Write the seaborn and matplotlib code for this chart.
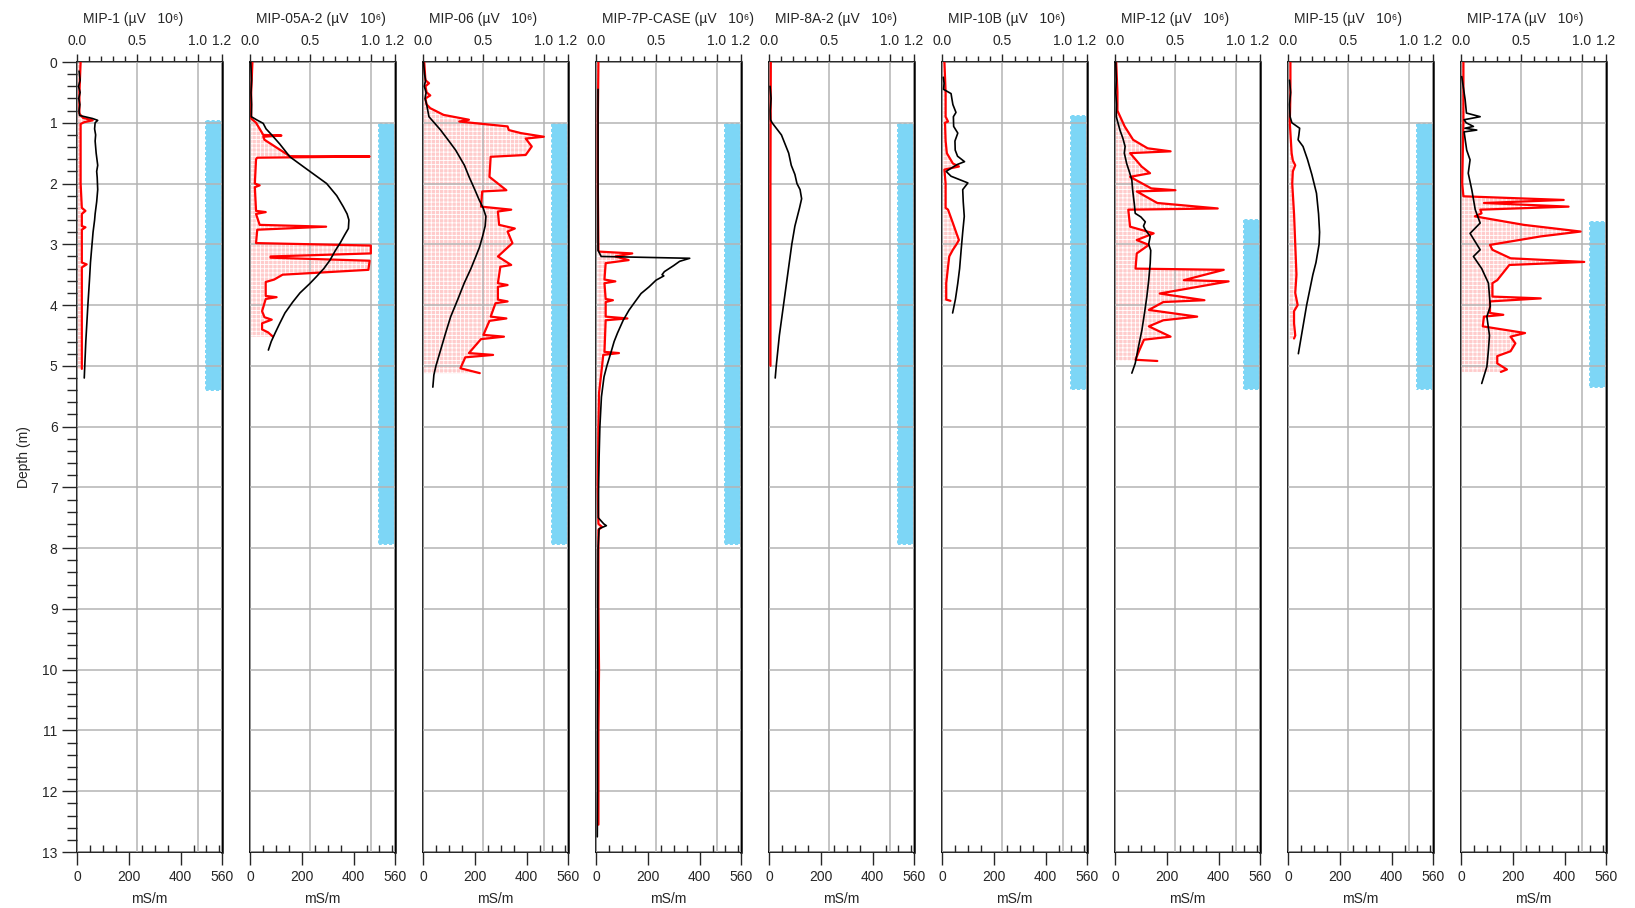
import matplotlib
matplotlib.use('Agg')
import matplotlib.pyplot as plt
from matplotlib.ticker import MultipleLocator
import seaborn as sns
import pandas as pd

# well names and the blue screened interval (top, bottom depth in m)
wells = ['MIP-1', 'MIP-05A-2', 'MIP-06', 'MIP-7P-CASE', 'MIP-8A-2',
         'MIP-10B', 'MIP-12', 'MIP-15', 'MIP-17A']
screen_top = [0.95, 1.0, 1.0, 1.0, 1.0, 0.88, 2.58, 1.0, 2.62]
screen_bot = [5.42, 7.95, 7.95, 7.95, 7.95, 5.40, 5.40, 5.40, 5.37]

# MIP signal (uV x 10^6), (depth, value)
mip1_red = [(0, 0.03), (0.5, 0.02), (0.85, 0.02), (0.92, 0.05), (0.96, 0.13), (0.99, 0.06),
            (1.02, 0.03), (1.5, 0.03), (2.0, 0.03), (2.4, 0.04), (2.45, 0.07), (2.5, 0.04),
            (2.7, 0.04), (2.72, 0.07), (2.76, 0.04), (3.3, 0.04), (3.33, 0.08), (3.38, 0.04),
            (4.0, 0.04), (4.5, 0.04), (5.05, 0.04)]
mip05_red = [(0, 0.02), (0.5, 0.01), (0.93, 0.01), (1.0, 0.05), (1.2, 0.11), (1.21, 0.26),
             (1.23, 0.11), (1.28, 0.12), (1.55, 0.33), (1.555, 0.99), (1.575, 0.06), (1.6, 0.05),
             (2.0, 0.04), (2.03, 0.08), (2.06, 0.04), (2.45, 0.05), (2.47, 0.13), (2.5, 0.05),
             (2.68, 0.08), (2.71, 0.63), (2.76, 0.06), (2.98, 0.05), (3.02, 1.0), (3.15, 1.0),
             (3.2, 0.17), (3.22, 0.17), (3.27, 0.99), (3.42, 0.98), (3.5, 0.27), (3.58, 0.2),
             (3.62, 0.13), (3.85, 0.13), (3.87, 0.22), (3.9, 0.13), (4.1, 0.1), (4.2, 0.12),
             (4.24, 0.18), (4.3, 0.1), (4.4, 0.1), (4.45, 0.15), (4.52, 0.19)]
mip06_red = [(0, 0.01), (0.3, 0.02), (0.35, 0.05), (0.4, 0.02), (0.5, 0.03), (0.55, 0.06),
             (0.6, 0.02), (0.7, 0.03), (0.76, 0.06), (0.87, 0.17), (0.95, 0.38), (0.98, 0.3),
             (1.06, 0.7), (1.12, 0.71), (1.17, 0.81), (1.23, 1.0), (1.26, 0.85), (1.39, 0.9),
             (1.53, 0.85), (1.56, 0.56), (1.89, 0.55), (2.11, 0.69), (2.13, 0.49), (2.38, 0.48),
             (2.43, 0.73), (2.46, 0.62), (2.68, 0.63), (2.74, 0.76), (2.79, 0.7), (2.98, 0.74),
             (3.2, 0.62), (3.34, 0.73), (3.37, 0.64), (3.64, 0.62), (3.67, 0.7), (3.7, 0.62),
             (3.91, 0.62), (3.94, 0.7), (3.97, 0.6), (4.19, 0.56), (4.22, 0.69), (4.26, 0.55),
             (4.49, 0.5), (4.52, 0.67), (4.56, 0.48), (4.79, 0.38), (4.82, 0.58), (4.86, 0.35),
             (5.04, 0.31), (5.12, 0.47)]
mip7_red = [(0, 0.02), (1.0, 0.015), (2.0, 0.015), (3.1, 0.02), (3.12, 0.025), (3.15, 0.30),
            (3.2, 0.16), (3.26, 0.27), (3.31, 0.08), (3.58, 0.07), (3.61, 0.16), (3.64, 0.07),
            (3.9, 0.08), (3.92, 0.14), (3.95, 0.08), (4.19, 0.08), (4.22, 0.26), (4.25, 0.08),
            (4.77, 0.07), (4.79, 0.19), (4.82, 0.06), (5.01, 0.05), (5.45, 0.025), (6.0, 0.02),
            (7.0, 0.015), (7.6, 0.02), (7.65, 0.05), (7.7, 0.02), (9.0, 0.02), (10.0, 0.025),
            (11.0, 0.02), (12.0, 0.02), (12.55, 0.02)]
mip8_red = [(0, 0.015), (2.0, 0.012), (4.0, 0.012), (5.0, 0.012)]
mip10_red = [(0, 0.02), (0.5, 0.03), (0.9, 0.03), (0.98, 0.05), (1.0, 0.025), (1.3, 0.03),
             (1.5, 0.04), (1.67, 0.09), (1.72, 0.14), (1.77, 0.02), (2.0, 0.03), (2.4, 0.03),
             (2.43, 0.05), (2.65, 0.09), (2.82, 0.12), (2.93, 0.14), (3.0, 0.12), (3.09, 0.09),
             (3.2, 0.06), (3.37, 0.05), (3.64, 0.035), (3.91, 0.035), (3.93, 0.07)]
mip12_red = [(0, 0.01), (0.5, 0.02), (0.8, 0.02), (1.06, 0.08), (1.28, 0.15), (1.42, 0.27),
             (1.47, 0.46), (1.5, 0.125), (1.72, 0.22), (1.83, 0.29), (1.89, 0.125), (2.08, 0.3),
             (2.11, 0.5), (2.13, 0.18), (2.32, 0.35), (2.41, 0.85), (2.43, 0.11), (2.71, 0.125),
             (2.82, 0.32), (2.93, 0.18), (3.01, 0.28), (3.15, 0.18), (3.4, 0.17), (3.42, 0.9),
             (3.59, 0.57), (3.61, 0.94), (3.81, 0.37), (3.92, 0.74), (3.95, 0.4), (4.08, 0.28),
             (4.19, 0.68), (4.25, 0.4), (4.35, 0.28), (4.52, 0.46), (4.57, 0.24), (4.75, 0.2),
             (4.9, 0.17), (4.92, 0.35)]
mip15_red = [(0, 0.02), (0.5, 0.02), (1.0, 0.015), (1.5, 0.03), (1.62, 0.04), (1.7, 0.06),
             (1.8, 0.04), (2.0, 0.035), (2.5, 0.05), (3.0, 0.06), (3.5, 0.07), (3.8, 0.06),
             (4.0, 0.08), (4.1, 0.05), (4.3, 0.05), (4.5, 0.06), (4.55, 0.05)]
mip17_red = [(0, 0.02), (0.5, 0.02), (1.0, 0.02), (1.5, 0.015), (2.0, 0.01), (2.21, 0.02),
             (2.27, 0.85), (2.32, 0.19), (2.38, 0.89), (2.43, 0.16), (2.49, 0.17), (2.54, 0.115),
             (2.68, 0.52), (2.79, 0.99), (2.87, 0.66), (3.01, 0.24), (3.09, 0.26), (3.23, 0.41),
             (3.29, 1.02), (3.34, 0.4), (3.59, 0.3), (3.64, 0.26), (3.86, 0.26), (3.89, 0.66),
             (3.94, 0.24), (4.13, 0.24), (4.16, 0.35), (4.19, 0.19), (4.35, 0.18), (4.46, 0.53),
             (4.52, 0.41), (4.63, 0.45), (4.76, 0.41), (4.84, 0.3), (4.96, 0.3), (5.06, 0.38),
             (5.1, 0.33)]

# electrical conductivity (mS/m), (depth, value)
mip1_ec = [(0.15, 8), (0.3, 12), (0.4, 6), (0.5, 12), (0.6, 7), (0.7, 11), (0.8, 8), (0.88, 10),
           (0.93, 60), (0.96, 80), (1.0, 70), (1.1, 68), (1.2, 72), (1.3, 70), (1.5, 74), (1.7, 80),
           (1.8, 76), (1.9, 78), (2.1, 80), (2.3, 76), (2.5, 70), (2.6, 68), (2.8, 62), (3.0, 58),
           (3.3, 52), (3.6, 48), (4.0, 42), (4.3, 38), (4.6, 34), (5.0, 30), (5.2, 28)]
mip05_ec = [(0.0, 3), (0.3, 6), (0.5, 4), (0.7, 6), (0.9, 5), (0.95, 25), (1.01, 51), (1.1, 62),
            (1.2, 84), (1.35, 115), (1.56, 154), (1.75, 215), (2.0, 296), (2.2, 335), (2.38, 360),
            (2.5, 375), (2.6, 382), (2.74, 380), (2.85, 365), (2.98, 348), (3.1, 330), (3.26, 309),
            (3.4, 285), (3.53, 257), (3.65, 230), (3.8, 193), (3.95, 165), (4.13, 135), (4.3, 115),
            (4.46, 97), (4.6, 82), (4.74, 71)]
mip06_ec = [(0, 2), (0.2, 6), (0.3, 10), (0.4, 5), (0.5, 12), (0.6, 8), (0.7, 14), (0.9, 23),
            (1.12, 68), (1.3, 100), (1.45, 126), (1.7, 160), (1.89, 178), (2.1, 200), (2.27, 217),
            (2.4, 232), (2.54, 243), (2.7, 240), (2.87, 230), (3.05, 218), (3.2, 204), (3.4, 185),
            (3.64, 159), (3.9, 135), (4.19, 107), (4.45, 88), (4.74, 68), (5.0, 50), (5.15, 42),
            (5.35, 38)]
mip7_ec = [(0.45, 8), (1.0, 8), (2.0, 8), (3.1, 8), (3.2, 20), (3.23, 362), (3.28, 323),
           (3.35, 300), (3.45, 264), (3.5, 255), (3.52, 262), (3.59, 232), (3.7, 205), (3.81, 174),
           (3.95, 150), (4.08, 128), (4.25, 105), (4.46, 83), (4.6, 70), (4.79, 57), (5.0, 42),
           (5.18, 31), (5.51, 21), (6.0, 15), (6.5, 12), (7.0, 10), (7.5, 9), (7.6, 30), (7.63, 40),
           (7.68, 12), (8.0, 8), (9.0, 7), (10.0, 7), (11.0, 6), (12.0, 6), (12.75, 5)]
mip8_ec = [(0.4, 4), (0.6, 8), (0.8, 5), (0.95, 6), (1.0, 12), (1.1, 30), (1.2, 48), (1.35, 62),
           (1.5, 76), (1.7, 86), (1.85, 100), (2.0, 108), (2.1, 120), (2.25, 126), (2.4, 118),
           (2.7, 100), (3.0, 88), (3.5, 72), (4.0, 56), (4.5, 40), (5.0, 28), (5.2, 24)]
mip10_ec = [(0.25, 5), (0.35, 8), (0.45, 6), (0.52, 35), (0.6, 38), (0.7, 42), (0.83, 54),
            (0.9, 44), (1.06, 45), (1.17, 61), (1.3, 50), (1.45, 51), (1.55, 60), (1.64, 87),
            (1.69, 57), (1.8, 16), (1.88, 35), (1.99, 100), (2.1, 80), (2.3, 82), (2.54, 86),
            (2.8, 80), (3.09, 74), (3.4, 68), (3.64, 61), (3.9, 52), (4.13, 41)]
mip12_ec = [(0, 3), (0.3, 5), (0.5, 3), (0.7, 6), (0.9, 5), (1.12, 19), (1.25, 30), (1.39, 39),
            (1.5, 36), (1.67, 45), (1.8, 55), (1.94, 65), (2.1, 68), (2.21, 71), (2.35, 75),
            (2.49, 78), (2.55, 100), (2.63, 117), (2.7, 110), (2.76, 117), (2.87, 136), (3.0, 130),
            (3.1, 138), (3.31, 136), (3.6, 130), (3.86, 123), (4.1, 115), (4.41, 104), (4.7, 90),
            (4.96, 78), (5.12, 65)]
mip15_ec = [(0.3, 6), (0.5, 10), (0.7, 6), (0.9, 8), (1.0, 15), (1.09, 45), (1.2, 42), (1.28, 39),
            (1.39, 58), (1.6, 75), (1.85, 92), (2.16, 110), (2.5, 118), (2.8, 122), (3.0, 120),
            (3.3, 108), (3.5, 96), (4.0, 72), (4.5, 52), (4.8, 40)]
mip17_ec = [(0.24, 3), (0.62, 16), (0.84, 21), (0.9, 74), (0.95, 12), (1.0, 20), (1.06, 48),
            (1.09, 15), (1.12, 61), (1.15, 12), (1.45, 22), (1.61, 35), (1.83, 28), (2.11, 42),
            (2.43, 55), (2.65, 74), (2.82, 35), (3.09, 74), (3.2, 48), (3.4, 80), (3.64, 106),
            (4.02, 113), (4.19, 100), (4.5, 110), (4.74, 106), (5.01, 100), (5.29, 80)]

red_data = [mip1_red, mip05_red, mip06_red, mip7_red, mip8_red,
            mip10_red, mip12_red, mip15_red, mip17_red]
ec_data = [mip1_ec, mip05_ec, mip06_ec, mip7_ec, mip8_ec,
           mip10_ec, mip12_ec, mip15_ec, mip17_ec]

sns.set_style('white')
plt.rcParams['font.family'] = ['Liberation Sans', 'DejaVu Sans']
plt.rcParams['hatch.linewidth'] = 0.6

W, H = 1635, 908
fig = plt.figure(figsize=(W / 100, H / 100), dpi=100)

for i, name in enumerate(wells):
    left = 77 + 173 * i
    ax = fig.add_axes([left / W, 1 - 852 / H, 145 / W, 790 / H])
    ax_ec = ax.twiny()   # conductivity axis (bottom)
    red = pd.DataFrame(red_data[i], columns=['depth', 'val'])
    ec = pd.DataFrame(ec_data[i], columns=['depth', 'val'])

    # screened interval bar
    ax.fill_betweenx([screen_top[i], screen_bot[i]], 1.06, 1.2, facecolor='#7dd6f6',
                     edgecolor='white', linestyle=(0, (1, 1.5)), linewidth=1.5, zorder=1)
    # MIP signal with hatched fill
    ax.fill_betweenx(red['depth'], 0, red['val'], facecolor='#ffcccc', edgecolor='white',
                     hatch='++++', linewidth=0, zorder=1)
    sns.lineplot(data=red, x='val', y='depth', sort=False, estimator=None,
                 color='red', lw=1.6, ax=ax, zorder=3)
    ax.set_xlim(0, 1.2)
    ax.set_ylim(13, 0)
    ax.set_xlabel('')
    ax.set_ylabel('')
    ax.set_axisbelow(False)
    ax.xaxis.set_ticks_position('top')
    ax.xaxis.set_label_position('top')
    ax.set_xticks([0, 0.5, 1.0, 1.2])
    ax.set_xticklabels(['0.0', '0.5', '1.0', '1.2'])
    ax.xaxis.set_minor_locator(MultipleLocator(0.1))
    ax.tick_params(axis='x', which='major', direction='out', length=6, width=1, pad=4,
                   labelsize=10, top=True, bottom=False, labeltop=True, labelbottom=False)
    ax.tick_params(axis='x', which='minor', direction='out', length=4, width=1, top=True, bottom=False)
    ax.set_yticks(range(14))
    ax.grid(True, which='major', color='#b4b4b4', lw=1.1)
    if i == 0:
        ax.yaxis.set_minor_locator(MultipleLocator(0.2))
        ax.tick_params(axis='y', which='major', direction='out', length=11, width=1, labelsize=10,
                       left=True, pad=3)
        ax.tick_params(axis='y', which='minor', direction='out', length=7, width=1, left=True)
        ax.set_ylabel('Depth (m)', fontsize=10, labelpad=8)
    else:
        ax.tick_params(axis='y', which='both', left=False, labelleft=False)
    for s in ax.spines.values():
        s.set_color('black')
        s.set_linewidth(1.2)
    ax.spines['right'].set_linewidth(1.8)

    sns.lineplot(data=ec, x='val', y='depth', sort=False, estimator=None,
                 color='black', lw=1.2, ax=ax_ec, zorder=4)
    ax_ec.set_xlim(0, 560)
    ax_ec.set_ylim(13, 0)
    ax_ec.set_ylabel('')
    ax_ec.xaxis.set_ticks_position('bottom')
    ax_ec.xaxis.set_label_position('bottom')
    ax_ec.set_xticks([0, 200, 400, 560])
    ax_ec.xaxis.set_minor_locator(MultipleLocator(50))
    ax_ec.tick_params(axis='x', which='major', direction='out', length=9, width=1, pad=4,
                      labelsize=10, bottom=True, top=False, labelbottom=True, labeltop=False)
    ax_ec.tick_params(axis='x', which='minor', direction='in', length=5, width=1,
                      bottom=True, top=False)
    ax_ec.set_xlabel('mS/m', fontsize=10, labelpad=6)
    ax_ec.grid(False)
    ax_ec.tick_params(axis='y', which='both', left=False, right=False,
                      labelleft=False, labelright=False)
    for s in ax_ec.spines.values():
        s.set_visible(False)

    fig.text((left + 6) / W, 1 - 19 / H, name + ' (\u00b5V   10\u2076)', fontsize=10,
             ha='left', va='center')

fig.savefig('out.png', dpi=100)
